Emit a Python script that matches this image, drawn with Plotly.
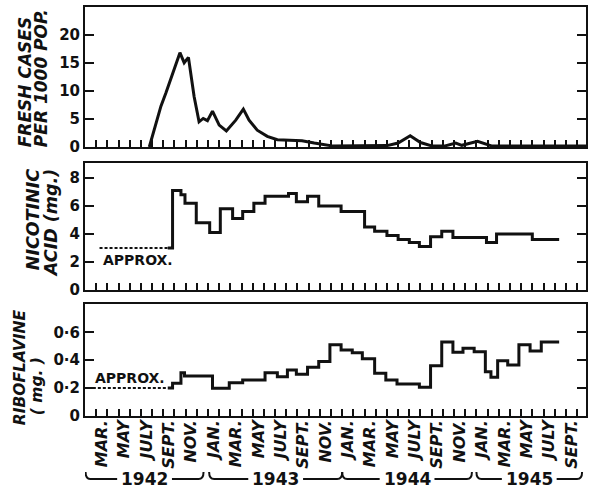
import plotly.graph_objects as go

# ---------------- data (x in months from 1 Feb 1942) ----------------
cases_x = [5.75, 6.79, 7.24, 7.83, 8.49, 8.87, 9.25, 9.76, 10.2, 10.57, 10.95, 11.4, 12.0, 12.64,
           13.48, 14.16, 14.67, 15.4, 16.3, 17.2, 18.2, 19.4, 20.5, 22.1, 27.0, 28.0, 29.08, 30.0,
           31.0, 32.2, 33.15, 33.7, 35.1, 36.35, 44.8]
cases_y = [0, 7.3, 9.7, 13.2, 16.85, 15.05, 16.0, 8.96, 4.5, 5.1, 4.7, 6.4, 3.9, 2.87,
           4.8, 6.76, 4.8, 3.0, 1.9, 1.3, 1.2, 1.1, 0.7, 0.2, 0.25, 0.7, 2.0, 0.8,
           0.2, 0.2, 0.7, 0.3, 1.0, 0.2, 0.2]

nic_approx_x = [1.3, 7.4]
nic_approx_y = [3.0, 3.0]
nic_x = [7.4, 7.83, 8.58, 8.94, 9.95, 11.15, 12.1, 13.2, 14.1, 15.1, 16.1, 18.2, 18.9, 19.9,
         20.9, 22.9, 25.0, 25.9, 27.0, 28.0, 29.0, 29.9, 30.9, 31.9, 32.9, 35.9, 36.8, 40.0, 42.4]
nic_y = [3.0, 7.1, 6.8, 6.2, 4.8, 4.1, 5.8, 5.1, 5.6, 6.2, 6.7, 6.9, 6.3, 6.7,
         6.0, 5.6, 4.5, 4.2, 3.9, 3.6, 3.4, 3.1, 3.8, 4.2, 3.75, 3.4, 4.0, 3.6, 3.6]

rib_approx_x = [0.7, 7.4]
rib_approx_y = [0.2, 0.2]
rib_x = [7.4, 7.83, 8.58, 8.9, 11.4, 12.9, 14.1, 16.1, 17.2, 18.1, 18.9, 19.9, 20.9, 21.9,
         22.9, 23.9, 24.8, 25.9, 26.9, 27.9, 29.9, 30.9, 31.9, 32.9, 33.8, 34.8, 35.8, 36.3,
         36.9, 37.8, 38.8, 39.8, 40.8, 42.4]
rib_y = [0.2, 0.235, 0.31, 0.287, 0.199, 0.239, 0.258, 0.31, 0.282, 0.33, 0.30, 0.35, 0.39, 0.51,
         0.473, 0.454, 0.41, 0.306, 0.258, 0.23, 0.206, 0.36, 0.53, 0.457, 0.486, 0.461, 0.318, 0.278,
         0.397, 0.366, 0.51, 0.466, 0.53, 0.53]

month_ticks = list(range(1, 45))
month_label_pos = [1.5 + 2 * i for i in range(22)]
month_labels = ["MAR.", "MAY", "JULY", "SEPT.", "NOV.",
                "JAN.", "MAR.", "MAY", "JULY", "SEPT.", "NOV.",
                "JAN.", "MAR.", "MAY", "JULY", "SEPT.", "NOV.",
                "JAN.", "MAR.", "MAY", "JULY", "SEPT."]
years = ["1942", "1943", "1944", "1945"]
year_spans = [(0.05, 10.6), (11.1, 23.0), (23.0, 34.6), (35.0, 44.45)]

cases_ticks = [0, 5, 10, 15, 20]
nic_ticks = [0, 2, 4, 6, 8]
rib_ticks = [0, 0.2, 0.4, 0.6]
rib_ticktext = ["0", "0·2", "0·4", "0·6"]

# ---------------- figure ----------------
FONT = "DejaVu Sans, Liberation Sans, Arial"
INK = "#111111"
XR = [0, 44.8]

fig = go.Figure()
line = dict(color=INK, width=3)
fig.add_trace(go.Scatter(x=cases_x, y=cases_y, mode="lines", line=line, xaxis="x", yaxis="y"))
fig.add_trace(go.Scatter(x=nic_approx_x, y=nic_approx_y, mode="lines",
                         line=dict(color=INK, width=2, dash="3px,2px"), xaxis="x2", yaxis="y2"))
fig.add_trace(go.Scatter(x=nic_x, y=nic_y, mode="lines", line=dict(color=INK, width=3, shape="hv"),
                         xaxis="x2", yaxis="y2"))
fig.add_trace(go.Scatter(x=rib_approx_x, y=rib_approx_y, mode="lines",
                         line=dict(color=INK, width=2, dash="3px,2px"), xaxis="x3", yaxis="y3"))
fig.add_trace(go.Scatter(x=rib_x, y=rib_y, mode="lines", line=dict(color=INK, width=3, shape="hv"),
                         xaxis="x3", yaxis="y3"))
# invisible carrier so the month-label axis is drawn
fig.add_trace(go.Scatter(x=month_label_pos, y=[0] * len(month_label_pos), mode="markers",
                         marker=dict(opacity=0, size=1), hoverinfo="skip",
                         xaxis="x4", yaxis="y3"))

xcommon = dict(range=XR, tickvals=month_ticks, ticks="inside", ticklen=7, tickwidth=2, tickcolor=INK,
               showticklabels=False, showline=True, linewidth=2, linecolor=INK, mirror=True,
               showgrid=False, zeroline=False)
ycommon = dict(ticks="inside", ticklen=9, tickwidth=2, tickcolor=INK, showline=True, linewidth=2,
               linecolor=INK, mirror="ticks", showgrid=False, zeroline=False,
               tickfont=dict(family=FONT, size=15, color=INK, weight="bold"))

H_PLOT = 409.0
def dom(top_px, bot_px):
    return [(H_PLOT - bot_px) / H_PLOT, (H_PLOT - top_px) / H_PLOT]

fig.update_layout(
    width=590, height=489, margin=dict(l=85, r=2, t=7, b=73),
    paper_bgcolor="white", plot_bgcolor="white", showlegend=False,
    xaxis=dict(**xcommon, anchor="y"),
    xaxis2=dict(**xcommon, anchor="y2"),
    xaxis3=dict(**xcommon, anchor="y3"),
    xaxis4=dict(range=XR, overlaying="x3", anchor="y3", side="bottom", tickvals=month_label_pos,
                ticktext=month_labels, tickangle=-90, ticks="", showline=False, showgrid=False,
                zeroline=False, showticklabels=True,
                tickfont=dict(family=FONT, size=16, color=INK, weight="bold", style="italic")),
    yaxis=dict(**ycommon, domain=dom(0, 140), range=[0, 25], tickvals=cases_ticks, anchor="x"),
    yaxis2=dict(**ycommon, domain=dom(156, 283), range=[0, 9.07], tickvals=nic_ticks, anchor="x2"),
    yaxis3=dict(**ycommon, domain=dom(297, 409), range=[0, 0.803], tickvals=rib_ticks,
                ticktext=rib_ticktext, anchor="x3"),
)

def px_x(px):
    return (px - 85.0) / 503.0

def px_y(py):
    return (416.0 - py) / H_PLOT

tfont = dict(family=FONT, color=INK, weight="bold", style="italic")
titles = [
    ("FRESH CASES", 25, 82, 17),
    ("PER 1000 POP.", 41, 78, 17),
    ("NICOTINIC", 33, 220, 17.5),
    ("ACID (mg.)", 51, 223, 17.5),
    ("RIBOFLAVINE", 20, 367, 15.5),
    ("( mg. )", 37, 386, 15.5),
]
for txt, px, py, sz in titles:
    fig.add_annotation(text=txt, x=px_x(px), y=px_y(py), xref="paper", yref="paper",
                       textangle=-90, showarrow=False, xanchor="center", yanchor="middle",
                       font=dict(**tfont, size=sz))

fig.add_annotation(text="APPROX.", x=1.47, y=2.15, xref="x2", yref="y2", showarrow=False,
                   xanchor="left", yanchor="middle",
                   font=dict(family=FONT, color=INK, weight="bold", size=14))
fig.add_annotation(text="APPROX.", x=0.7, y=0.27, xref="x3", yref="y3", showarrow=False,
                   xanchor="left", yanchor="middle",
                   font=dict(family=FONT, color=INK, weight="bold", size=14))

# year brackets
y_line = px_y(479)
y_up = px_y(472)
w = 0.45
g = 2.45
for yr, (a, b) in zip(years, year_spans):
    c = (a + b) / 2
    fig.add_annotation(text=yr, x=c, y=y_line, xref="x3", yref="paper", showarrow=False,
                       xanchor="center", yanchor="middle",
                       font=dict(family=FONT, color=INK, weight="bold", size=17))
    p_left = f"M {a},{y_up} Q {a},{y_line} {a + w},{y_line} L {c - g},{y_line}"
    p_right = f"M {c + g},{y_line} L {b - w},{y_line} Q {b},{y_line} {b},{y_up}"
    for p in (p_left, p_right):
        fig.add_shape(type="path", path=p, xref="x3", yref="paper",
                      line=dict(color=INK, width=2))

fig.write_html("out.html")
